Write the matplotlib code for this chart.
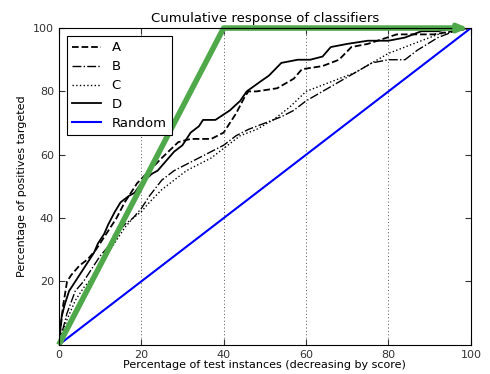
import numpy as np
import matplotlib
matplotlib.use("Agg")
import matplotlib.pyplot as plt

# cumulative response curves (percent of test instances, percent of positives)
x_a = [0, 1, 2, 3, 5, 7, 9, 11, 13, 14, 16, 19, 22, 25, 29, 32, 37, 40, 43, 45, 46, 48, 53, 57, 59, 64, 68, 71, 75, 82, 91, 100]
y_a = [0, 12, 20, 22, 25, 27, 30, 34, 38, 40, 45, 51, 55, 59, 64, 65, 65, 67, 73, 78, 80, 80, 81, 84, 87, 88, 90, 94, 95, 98, 98, 100]

x_b = [0, 2, 4, 6, 8, 10, 12, 14, 16, 18, 20, 22, 25, 28, 31, 34, 37, 40, 43, 46, 50, 54, 57, 60, 64, 68, 72, 76, 80, 84, 87, 92, 96, 100]
y_b = [0, 10, 17, 20, 24, 28, 31, 35, 38, 40, 43, 47, 52, 55, 57, 59, 61, 63, 66, 68, 70, 72, 74, 77, 80, 83, 86, 89, 90, 90, 93, 97, 99, 100]

x_c = [0, 2, 4, 6, 8, 10, 12, 14, 16, 18, 20, 22, 25, 28, 31, 34, 37, 40, 44, 48, 52, 56, 60, 64, 68, 72, 76, 80, 84, 88, 92, 96, 100]
y_c = [0, 8, 14, 18, 21, 25, 29, 33, 37, 40, 42, 45, 49, 52, 55, 57, 59, 62, 66, 68, 71, 75, 80, 82, 84, 86, 89, 92, 94, 96, 98, 99, 100]

x_d = [0, 0.7, 1.5, 2.5, 4, 5.5, 7, 8.5, 9.5, 11, 12, 13.6, 15, 16, 17, 18.4, 20, 22.6, 24, 26, 28, 30, 32, 34, 35, 38, 41.5, 44, 45.6, 48.8, 51, 54, 58, 61, 64, 66, 70, 75, 80, 84, 88, 92, 96, 100]
y_d = [0, 9, 13, 17, 20, 23, 26, 29, 32, 35, 38, 42, 45, 46, 47, 48, 51, 54, 55, 58, 61, 63, 67, 69, 71, 71, 74, 77, 80, 83, 85, 89, 90, 90, 91, 94, 95, 96, 96, 97, 99, 99, 100, 100]

x_rand = [0, 100]
y_rand = [0, 100]

# ideal (perfect) classifier
x_best = [0, 40, 100]
y_best = [0, 100, 100]

fig = plt.figure(figsize=(4.9, 3.74), dpi=100)
ax = fig.add_axes([0.12, 0.078, 0.841, 0.847])

ax.plot(x_a, y_a, color='black', linestyle='--', linewidth=1.3, label='A')
ax.plot(x_b, y_b, color='black', linestyle='-.', linewidth=1.0, label='B')
ax.plot(x_c, y_c, color='black', linestyle=':', linewidth=1.0, label='C')
ax.plot(x_d, y_d, color='black', linestyle='-', linewidth=1.3, label='D')
ax.plot(x_rand, y_rand, color='blue', linewidth=1.5, label='Random')

green = '#4fa84a'
ax.plot(x_best[:-1] + [x_best[-1] - 3], y_best, color=green, linewidth=4,
        solid_capstyle='butt', clip_on=False)
ax.annotate('', xy=(x_best[-1], y_best[-1]), xytext=(x_best[-1] - 4, y_best[-1]),
            arrowprops=dict(arrowstyle='-|>,head_length=0.6,head_width=0.25',
                            color=green, lw=3), annotation_clip=False)

ax.set_xlim(0, 100)
ax.set_ylim(0, 100)
ax.set_xticks([0, 20, 40, 60, 80, 100])
ax.set_yticks([20, 40, 60, 80, 100])
ax.xaxis.grid(True, linestyle=(0, (1, 2.5)), color='#555555', linewidth=0.7)
ax.tick_params(direction='in', top=True, right=True, labelsize=8, colors='#333333', length=4)
for s in ax.spines.values():
    s.set_linewidth(0.8)

ax.set_title('Cumulative response of classifiers', fontsize=9.5, pad=4)
ax.set_xlabel('Percentage of test instances (decreasing by score)', fontsize=8, labelpad=0)
ax.set_ylabel('Percentage of positives targeted', fontsize=8)

leg = ax.legend(loc='upper left', fontsize=9.5, fancybox=False, framealpha=1,
                edgecolor='black', handlelength=2.2, borderaxespad=0.6,
                labelspacing=0.45)
leg.get_frame().set_linewidth(0.8)

fig.savefig('out.png', dpi=100)
